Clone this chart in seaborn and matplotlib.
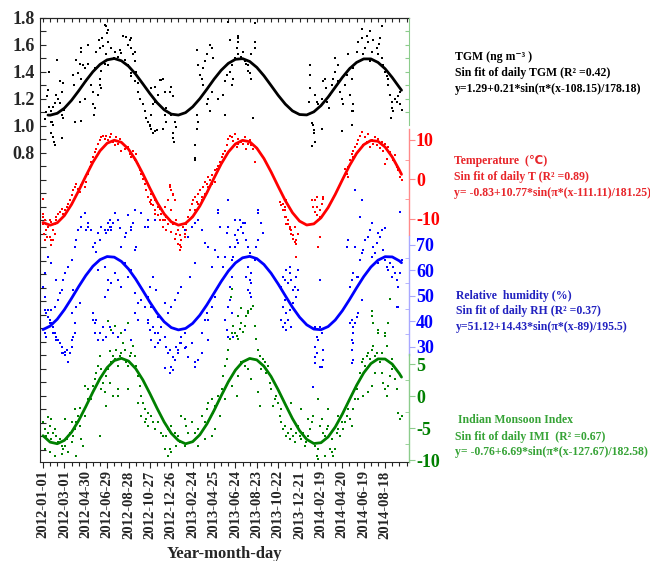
import matplotlib
matplotlib.use("Agg")
import matplotlib.pyplot as plt
import seaborn as sns
import numpy as np

# ---------------- data (days since 2012-01-01) ----------------
date_tick_days = [0, 60, 120, 180, 240, 300, 360, 420, 480, 540, 600, 660, 720, 780, 840, 900, 960]
date_tick_labels = ["2012-01-01", "2012-03-01", "2012-04-30", "2012-06-29", "2012-08-28",
                    "2012-10-27", "2012-12-26", "2013-02-24", "2013-04-25", "2013-06-24",
                    "2013-08-23", "2013-10-22", "2013-12-21", "2014-02-19", "2014-04-20",
                    "2014-06-19", "2014-08-18"]

tgm_ticks = [0.8, 1.0, 1.2, 1.4, 1.6, 1.8]
temp_ticks = [-10, 0, 10]
rh_ticks = [30, 40, 50, 60, 70]
imi_ticks = [-10, -5, 0, 5]

tgm_points = [
 (16,1.40),(14,1.27),(17,1.14),(25,1.03),(28,1.01),(23,1.11),(33,1.17),(42,1.20),(37,1.23),(47,1.33),
 (56,1.32),(52,1.25),(52,1.08),(56,1.06),(39,1.49),(23,0.95),(53,0.91),(33,0.86),(47,1.17),(28,1.14),
 (59,1.12),(22,1.03),(27,0.92),(31,0.88),(8,1.10),(5,1.05),(10,1.22),
 (84,1.38),(87,1.30),(94,1.49),(103,1.46),(112,1.45),(98,1.39),(108,1.35),(117,1.43),(106,1.58),
 (108,1.55),(126,1.46),(126,1.60),(122,1.33),(136,1.30),(140,1.25),(140,1.16),(145,1.13),(143,1.08),
 (153,1.23),(164,1.28),(159,1.30),(159,1.35),(145,1.43),(150,1.55),(159,1.58),(157,1.64),(166,1.65),
 (178,1.74),(183,1.71),(173,1.75),(181,1.69),(183,1.62),(169,1.59),(178,1.53),(173,1.46),(183,1.45),
 (89,1.03),(108,1.04),(103,1.18),(117,1.20),(164,1.41),
 (192,1.58),(201,1.55),(211,1.51),(199,1.50),(220,1.54),(215,1.56),(225,1.67),(234,1.66),(243,1.64),
 (248,1.65),(239,1.60),(248,1.58),(253,1.53),(229,1.49),(239,1.45),(243,1.43),(246,1.39),(248,1.37),
 (257,1.33),(267,1.32),(262,1.40),(257,1.48),(257,1.55),
 (267,1.25),(271,1.20),(281,1.16),(286,1.11),(290,1.06),(295,1.03),(300,1.01),(304,0.98),(314,0.96),
 (304,1.08),(309,1.16),(314,1.18),(304,1.28),(314,1.29),(323,1.23),(328,1.34),(337,1.35),(342,1.25),
 (346,1.13),(342,1.08),(346,1.03),(337,0.98),(309,0.95),(356,1.25),(360,1.29),(365,1.22),(360,1.08),
 (370,1.03),(368,0.88),(374,0.99),(365,0.95),(332,1.34),(366,0.91),(300,1.00),(320,0.97),
 (431,1.56),(435,1.45),(440,1.38),(445,1.35),(449,1.43),(454,1.48),(459,1.53),(449,1.30),(454,1.25),
 (463,1.20),(459,1.16),(431,1.08),(435,1.03),(431,0.98),(426,0.76),(426,0.86),(468,1.11),(473,1.25),
 (473,1.58),(468,1.60),(477,1.50),(491,1.20),(505,1.23),(510,1.33),(515,1.38),(524,1.40),(529,1.45),
 (534,1.35),(529,1.30),(538,1.50),(548,1.53),(543,1.58),(548,1.62),(548,1.65),(548,1.67),(562,1.55),
 (557,1.51),(566,1.48),(571,1.46),(576,1.45),(576,1.41),(580,1.39),(585,1.35),(585,1.53),(594,1.58),
 (594,1.62),(524,1.64),(519,1.77),(596,1.76),(510,1.08),(590,1.06),(426,0.75),
 (749,1.45),(749,1.38),(749,1.28),(746,1.18),(758,1.01),(761,0.97),(755,0.85),(763,1.23),(768,1.18),
 (772,1.16),(782,1.20),(786,1.33),(791,1.35),(793,1.28),(798,1.18),(802,1.13),(805,1.23),(810,1.30),
 (814,1.35),(819,1.40),(819,1.50),(828,1.45),(828,1.33),(833,1.25),(838,1.20),(842,1.16),(847,1.30),
 (852,1.38),(856,1.53),(861,1.43),(861,1.23),(871,1.16),(871,1.11),(866,1.35),(871,1.43),(880,1.55),
 (885,1.62),(894,1.65),(894,1.72),(908,1.67),(917,1.70),(913,1.62),(903,1.58),(922,1.55),(927,1.64),
 (936,1.58),(941,1.53),(943,1.61),(950,1.74),(945,1.65),(950,1.50),(955,1.45),(959,1.40),(964,1.37),
 (969,1.35),(969,1.30),(973,1.23),(978,1.18),(980,1.13),(983,1.11),(988,1.20),(992,1.18),(997,1.22),
 (1002,1.25),(1002,1.16),(1006,1.12),(976,1.06),(899,1.53),(917,1.48),(838,0.96),(782,0.98),(866,1.11),
 (760,0.95),(763,0.88),(866,1.01),(755,1.02)]

temp_points = [
 (0,-4.9),(0,-9.5),(5,-10.4),(9,-11.2),(14,-12.1),(19,-10.4),(23,-10.8),(28,-12.9),(33,-11.2),(3,-13.8),
 (12,-14.6),(23,-15.4),(37,-9.5),(42,-8.7),(47,-8.3),(52,-7.4),(56,-8.7),(61,-7.8),(66,-7.0),(70,-6.2),
 (75,-5.3),(80,-4.05),(84,-2.8),(89,-1.9),(94,-1.1),(98,-2.4),(103,-3.2),(108,-1.5),(112,-0.7),(117,-1.9),
 (122,-0.7),(126,1.4),(131,3.1),(136,4.4),(140,5.7),(145,6.9),(150,7.8),(154,9.0),(159,9.9),(164,10.7),
 (169,11.1),(173,10.3),(178,11.1),(183,9.9),(187,10.7),(192,11.6),(197,9.5),(201,8.6),(206,10.7),
 (211,9.0),(215,10.3),(220,7.3),(229,7.8),(239,8.2),(243,6.5),(248,5.7),(253,7.3),(257,4.8),(262,6.5),
 (267,4.0),(271,2.3),(276,1.4),(281,0.2),(286,-1.1),(290,-2.8),(295,-4.5),(300,-5.7),(304,-5.3),
 (309,-6.6),(314,-7.8),(323,-6.2),(328,-7.4),(332,-8.7),(342,-7.0),(351,-5.3),(360,-2.8),(365,-4.05),
 (356,-1.5),(323,-9.1),(337,-10.4),(346,-9.5),(356,-10.4),(365,-11.2),(374,-10.4),(379,-12.9),
 (384,-14.2),(388,-15.4),(384,-16.7),(398,-13.8),(402,-11.2),(407,-9.5),(412,-7.8),(417,-6.2),
 (421,-5.3),(426,-4.5),(431,-5.7),(435,-3.6),(440,-2.8),(445,-4.5),(449,-1.9),(454,-0.7),(459,-1.1),
 (463,0.6),(468,-0.25),(473,1.0),(482,2.3),(487,2.7),(491,3.5),(496,4.4),(501,5.7),(505,6.5),(510,7.3),
 (515,8.6),(519,10.3),(524,11.1),(529,10.7),(538,11.6),(548,10.3),(557,9.5),(566,10.7),(576,9.0),
 (585,8.6),(590,7.8),(594,4.4),(548,9.0),(571,7.8),(533,9.8),(543,8.1),(562,8.9),(580,10.0),
 (665,-5.7),(669,-6.6),(674,-7.8),(679,-9.5),(683,-11.2),(688,-10.4),(693,-12.1),(697,-12.9),
 (702,-14.2),(711,-15.4),(707,-12.1),(679,-7.0),(683,-5.3),(754,-5.3),(758,-7.0),(763,-8.3),
 (768,-9.1),(772,-10.4),(777,-7.8),(782,-6.2),(786,-4.9),(777,-14.6),(768,-4.5),
 (852,1.4),(856,3.1),(861,4.8),(866,6.5),(871,7.3),(875,8.2),(880,9.0),(885,9.9),(889,11.1),(894,12.0),
 (903,10.7),(913,11.6),(922,9.9),(931,10.7),(941,10.3),(950,9.5),(959,9.0),(969,8.2),(973,6.9),
 (978,5.7),(983,4.8),(988,6.1),(992,3.1),(997,2.3),(1002,0.6),(1006,-0.25),(871,5.7),(899,8.6),
 (917,8.2),(936,8.6),(955,7.3),(964,5.2),(959,4.0),(856,0.6),(847,2.7),(908,9.6),(927,9.1),(945,8.0),
 (0,-11.2),(9,-12.9),(19,-14.6),(28,-15.4),(5,-15.4),(23,-16.7),(14,-12.1),(33,-13.8),(37,-10.4),(0,-8.7),
 (295,-1.1),(304,-3.6),(314,-5.3),(323,-7.0),(332,-8.7),(342,-10.4),(351,-11.2),(360,-13.3),(370,-15.0),
 (379,-16.3),(384,-18.0),(388,-17.1),(398,-14.6),(402,-12.9),(360,-7.8),(365,-3.6),(356,-1.9),(370,-5.3),
 (417,-9.5),(426,-7.8),(435,-6.2),(445,-5.3),(454,-3.6),(463,-1.9),(473,-1.1),(482,-0.7),(314,-8.7),
 (328,-10.4),(337,-12.1),(346,-12.9),(374,-13.8),(393,-12.1),(304,-6.2),
 (674,-6.2),(679,-7.8),(683,-9.5),(688,-11.2),(693,-12.5),(697,-13.8),(702,-15.0),(707,-15.9),
 (711,-16.3),(716,-13.8),(772,-17.1),(777,-9.5),(763,-5.3),(768,-7.0),(782,-6.2),(786,-4.5),(711,-19.7)]

rh_points = [
 (0,53.7),(5,49.7),(9,43.2),(14,41.9),(19,40.6),(23,44.5),(28,38.0),(33,35.4),(37,34.1),(42,32.7),
 (47,31.4),(52,30.1),(56,27.5),(61,26.9),(66,28.8),(70,24.3),(75,27.5),(80,30.1),(84,34.1),(89,35.4),
 (5,35.4),(9,34.1),(14,44.5),(23,39.3),(33,45.8),(42,48.4),(47,51.0),(52,52.4),(56,56.3),(61,58.9),
 (70,61.5),(80,64.1),(89,69.4),(94,72.0),(98,75.9),(108,77.2),(117,82.4),(126,78.5),(136,75.9),
 (23,62.8),(14,65.4),(5,58.9),(37,56.3),(80,43.2),(94,45.8),(103,47.1),(89,39.3),(84,52.4),
 (140,69.4),(145,70.7),(150,67.4),(154,74.6),(159,72.0),(164,77.2),(173,75.9),(178,74.6),(183,78.5),
 (187,77.2),(192,75.9),(197,78.5),(201,82.4),(211,79.8),(215,76.5),(220,69.4),(229,73.3),(234,74.6),
 (239,81.8),(248,75.9),(253,78.5),(257,68.0),(262,69.4),(154,60.2),(173,61.5),(183,56.3),(192,55.0),
 (201,58.9),(211,56.3),(220,53.7),(229,62.8),(239,57.6),(248,60.2),(257,51.0),(267,47.1),(276,48.4),
 (286,45.8),(140,43.2),(145,39.3),(150,40.6),(159,35.4),(169,32.7),(178,34.1),(187,38.0),(197,35.4),
 (211,34.1),(229,36.7),(248,32.7),(257,43.2),(267,40.6),(173,49.7),(183,52.4),(257,83.7),
 (295,40.6),(300,36.7),(304,32.7),(309,38.0),(314,30.1),(323,35.4),(328,32.7),(332,38.0),(342,34.1),
 (346,30.1),(351,27.5),(356,28.8),(360,22.3),(365,21.0),(370,24.9),(374,30.1),(379,27.5),(384,31.4),
 (388,34.1),(398,35.4),(402,30.1),(407,26.2),(417,31.4),(426,22.3),(435,24.9),(445,35.4),(454,40.6),
 (459,43.2),(463,40.6),(473,45.8),(482,49.7),(491,53.7),(501,56.3),(505,61.5),(510,65.4),(491,65.4),
 (473,61.5),(463,69.4),(454,70.7),(445,75.9),(435,79.8),(426,78.5),(417,77.2),(407,73.3),(398,75.9),
 (426,62.8),(412,57.6),(388,53.7),(379,51.0),(370,48.4),(360,45.8),(351,43.2),(342,47.1),(323,41.9),
 (304,45.8),(295,49.7),(300,53.7),(309,57.6),(318,52.4),(276,82.4),(286,77.2),(295,79.8),(491,82.4),
 (496,77.2),(482,68.0),
 (515,74.6),(519,77.2),(524,69.4),(529,64.1),(534,65.4),(538,69.4),(543,72.0),(548,75.9),(552,79.8),
 (557,77.2),(562,74.6),(566,78.5),(571,72.0),(576,69.4),(580,66.7),(585,55.0),(576,52.4),(580,51.0),
 (585,49.7),(580,56.3),(571,57.6),(576,61.5),(585,58.9),(594,64.1),(599,69.4),(604,82.4),(613,78.5),
 (618,74.6),(604,72.0),(548,70.7),(538,73.9),(519,45.8),(524,48.4),(529,43.2),(510,40.6),(515,36.7),
 (519,34.1),(534,34.1),(524,53.7),(529,57.6),
 (669,53.7),(674,57.6),(679,56.3),(683,60.2),(688,55.0),(693,58.9),(697,56.3),(702,52.4),(707,53.7),
 (711,49.7),(679,48.4),(674,45.8),(683,43.2),(688,40.6),(693,44.5),(702,47.1),(679,39.3),(674,38.0),
 (669,40.6),(697,38.0),(683,36.7),(711,57.6),(716,52.4),(693,61.5),(716,60.2),(763,30.1),(768,27.5),
 (772,32.7),(777,38.0),(782,35.4),(786,28.8),(763,23.6),(782,22.3),(777,56.3),(763,38.0),(768,34.1),
 (852,69.4),(856,72.0),(861,53.7),(866,56.3),(871,58.9),(875,69.4),(880,57.6),(885,57.6),(889,64.1),
 (894,66.7),(899,68.0),(903,72.0),(913,73.3),(917,75.9),(922,78.5),(927,69.4),(931,66.7),(936,70.7),
 (941,74.6),(945,73.3),(950,75.9),(955,68.0),(959,64.1),(964,61.5),(969,60.2),(973,62.8),(978,65.4),
 (983,61.5),(988,58.9),(992,56.3),(997,53.7),(1002,58.9),(1006,64.1),(1002,83.1),(922,65.4),(941,62.8),
 (978,57.6),(866,40.6),(871,38.0),(875,39.3),(880,41.9),(885,43.2),(871,35.4),(861,39.3),(866,32.7),
 (871,31.4),(866,23.6),(992,45.8),(997,45.8),(894,48.4),
 (108,81.1),(126,77.2),(122,75.9),(187,79.8),(192,77.2),(183,75.9),(239,81.7),(248,77.2),(491,83.7),
 (519,87.6),(538,79.8),(562,78.5),(604,83.7),(875,91.5),(894,87.6),(889,81.1),(959,76.5),(295,77.2),
 (314,79.8),
 (5,44.5),(14,41.9),(19,39.3),(28,35.4),(37,32.7),(52,27.5),(61,28.2),(70,24.2),(80,32.7),(84,34.0),
 (140,40.6),(145,35.4),(154,32.7),(169,38.0),(295,39.3),(314,35.4),(323,31.4),(342,21.6),(356,19.7),
 (365,26.2),(379,28.8),(388,31.4),(398,29.5),(426,24.2),(445,27.5),(463,32.7),(763,26.2),(777,22.3),
 (786,24.9),(758,14.4),(866,28.8),(871,24.9)]

imi_points = [
 (0,-4.1),(5,-5.2),(9,-6.2),(14,-5.7),(19,-4.6),(23,-6.7),(28,-5.7),(33,-5.2),(37,-6.2),(42,-7.2),
 (47,-6.7),(52,-7.8),(56,-8.3),(61,-7.8),(66,-6.7),(70,-6.2),(75,-5.7),(80,-7.2),(84,-6.2),(89,-5.2),
 (94,-4.1),(98,-3.1),(103,-4.6),(108,-6.7),(112,-7.8),(117,-3.1),(122,-1.5),(126,-0.5),(23,-3.6),
 (14,-3.3),(5,-8.3),(19,-8.8),(33,-9.3),(52,-9.1),(70,-8.8),(94,-9.3),(61,-3.6),(80,-4.1),(89,-2.0),
 (103,-1.8),(117,1.6),(126,1.1),(136,-0.5),(140,1.6),(145,2.7),(150,3.7),(154,4.7),(159,6.3),(164,4.2),
 (169,2.1),(173,0.6),(178,3.2),(183,4.2),(187,7.1),(192,5.3),(197,6.3),(201,5.8),(206,7.3),(211,4.7),
 (215,6.3),(220,6.8),(225,8.4),(229,7.3),(234,5.3),(239,4.7),(243,6.3),(248,6.8),(253,7.9),(257,6.3),
 (262,4.7),(267,3.2),(271,1.6),(276,0.05),(281,-1.0),(286,-2.0),(290,-3.6),(295,-4.6),(267,-1.0),
 (276,-3.1),(286,-4.1),(295,-2.6),(304,-3.1),(309,-4.1),(314,-5.2),(323,-4.1),(332,-5.7),(337,-6.2),
 (346,-6.2),(351,-5.2),(360,-4.6),(370,-5.7),(379,-6.2),(384,-7.2),(388,-3.1),(398,-3.6),(402,-4.6),
 (407,-5.7),(417,-4.1),(426,-5.7),(435,-5.2),(445,-3.1),(454,-4.1),(459,-2.0),(463,-1.0),(473,-0.5),
 (477,-2.6),(482,-1.5),(491,0.05),(496,-0.5),(501,1.1),(505,3.2),(510,4.7),(515,5.8),(519,7.3),
 (524,8.9),(529,9.9),(534,11.0),(538,9.9),(543,9.4),(548,8.9),(552,10.5),(557,11.5),(562,10.0),
 (566,11.0),(571,12.6),(576,13.1),(585,13.6),(594,11.0),(599,8.9),(604,7.3),(608,6.3),(613,4.2),
 (618,5.8),(622,5.3),(627,3.7),(632,4.7),(636,2.1),(641,1.1),(646,-1.5),(651,-0.5),(655,0.05),
 (660,-1.0),(608,-1.5),(604,0.6),(585,2.7),(576,4.2),(566,4.7),(557,5.3),(548,3.2),(543,0.05),
 (529,1.6),(510,-0.5),(496,-3.1),(187,2.1),(197,0.05),(211,1.1),(239,1.1),(164,1.1),(159,-6.2),
 (178,-1.5),(211,0.05),(356,-8.3),(360,-8.8),(374,-7.8),(398,-7.8),(417,-7.2),(435,-7.8),(454,-6.7),
 (473,-6.2),(482,-5.2),(342,-8.3),(351,-9.3),
 (665,-3.1),(669,-4.1),(674,-5.2),(679,-4.6),(683,-6.2),(688,-5.7),(693,-6.7),(697,-5.2),(702,-6.2),
 (707,-7.2),(711,-5.7),(716,-4.6),(721,-6.2),(725,-6.7),(730,-5.7),(735,-7.8),(739,-7.2),(744,-6.2),
 (749,-5.2),(754,-4.1),(758,-3.1),(763,-7.8),(768,-9.3),(772,-8.3),(777,-4.6),(782,-3.6),(786,-5.7),
 (791,-6.2),(796,-5.2),(800,-4.6),(805,-8.3),(810,-8.8),(814,-9.3),(819,-8.3),(824,-5.7),(828,-5.2),
 (833,-6.2),(838,-4.1),(842,-5.2),(847,-4.1),(852,-3.1),(856,-2.0),(861,-3.6),(866,-4.6),(871,-2.0),
 (875,-0.5),(880,1.1),(885,2.1),(889,3.7),(894,5.3),(899,5.8),(903,4.7),(908,6.3),(913,6.8),(917,5.8),
 (922,7.3),(927,7.9),(931,6.3),(936,6.8),(941,9.9),(945,5.3),(950,3.7),(955,2.1),(959,1.1),(964,0.05),
 (969,1.6),(973,3.2),(978,4.2),(983,4.7),(988,2.7),(992,1.1),(997,-2.6),(1002,-3.6),(1006,-3.1),
 (922,12.6),(927,11.5),(969,11.5),(959,9.4),(885,-0.5),(899,0.05),(913,0.6),(922,1.6),(931,3.7),
 (950,6.8),(964,7.9),(978,5.8),(669,-2.0),(697,-1.0),(725,-2.0),(744,-3.6),(772,-0.5),(800,-2.0),
 (828,-3.1),(810,-6.7),(791,-9.3),(772,-9.8),
 (529,16.8),(527,15.5),(557,13.8),(576,13.3),(590,14.1),(183,11.8),(201,11.0),(239,11.5),(922,13.3),
 (941,10.4),(959,9.9),(973,15.2),(548,12.6),(190,10.4),(220,9.9)]

# fitted sine curves
fit_days = [0, 20, 40, 60, 80, 100, 120, 140, 160, 180, 200, 220, 240, 260, 280, 300, 320, 340, 360,
            380, 400, 420, 440, 460, 480, 500, 520, 540, 560, 580, 600, 620, 640, 660, 680, 700, 720,
            740, 760, 780, 800, 820, 840, 860, 880, 900, 920, 940, 960, 980, 1000, 1006]
tgm_fit_days = [14] + fit_days[1:]
tgm_fit = [1.081, 1.080, 1.094, 1.132, 1.190, 1.260, 1.334, 1.402, 1.456, 1.490, 1.500, 1.483, 1.443,
           1.384, 1.313, 1.240, 1.173, 1.120, 1.088, 1.081, 1.099, 1.142, 1.202, 1.273, 1.347, 1.413,
           1.464, 1.494, 1.499, 1.478, 1.434, 1.372, 1.300, 1.227, 1.162, 1.112, 1.085, 1.082, 1.105,
           1.151, 1.214, 1.287, 1.360, 1.424, 1.471, 1.497, 1.497, 1.471, 1.424, 1.359, 1.286, 1.265]
temp_fit = [-10.93, -11.60, -10.99, -9.17, -6.36, -2.89, 0.82, 4.34, 7.24, 9.18, 9.93, 9.40, 7.66, 4.90,
            1.46, -2.25, -5.79, -8.75, -10.76, -11.59, -11.13, -9.46, -6.75, -3.35, 0.36, 3.93, 6.93,
            9.00, 9.91, 9.54, 7.93, 5.29, 1.91, -1.79, -5.38, -8.42, -10.57, -11.55, -11.26, -9.73,
            -7.14, -3.80, -0.11, 3.50, 6.60, 8.80, 9.87, 9.66, 8.20, 5.67, 2.36, 1.28]
rh_fit = [36.83, 38.20, 40.90, 44.64, 49.04, 53.66, 58.01, 61.67, 64.24, 65.46, 65.22, 63.54, 60.58,
          56.66, 52.16, 47.56, 43.33, 39.89, 37.60, 36.70, 37.27, 39.26, 42.47, 46.56, 51.12, 55.68,
          59.77, 62.97, 64.97, 65.54, 64.64, 62.35, 58.92, 54.68, 50.08, 45.59, 41.66, 38.70, 37.02,
          36.77, 38.00, 40.57, 44.22, 48.58, 53.20, 57.60, 61.34, 64.03, 65.41, 65.32, 63.77, 63.04]
imi_fit = [-6.18, -7.19, -7.44, -6.91, -5.65, -3.83, -1.64, 0.65, 2.77, 4.48, 5.58, 5.93, 5.50, 4.33,
           2.57, 0.41, -1.88, -4.04, -5.81, -6.94, -7.45, -7.12, -6.04, -4.34, -2.23, 0.06, 2.25, 4.09,
           5.36, 5.91, 5.68, 4.69, 3.08, 0.99, -1.29, -3.51, -5.40, -6.76, -7.41, -7.28, -6.38, -4.83,
           -2.80, -0.53, 1.71, 3.66, 5.10, 5.84, 5.82, 5.02, 3.54, 2.99]

# ---------------- style ----------------
sns.set_style("ticks")
plt.rcParams['font.family'] = ['Liberation Serif', 'DejaVu Sans']
plt.rcParams['font.weight'] = 'bold'

W, H = 650, 561
fig = plt.figure(figsize=(6.5, 5.61), dpi=100)
ax = fig.add_axes([40 / W, 1 - 462 / H, 369 / W, 444 / H])
ax_g = ax.twinx()
ax_t = ax.twinx()
ax_rh = ax.twinx()
ax_imi = ax.twinx()

RED, BLUE, GREEN = '#ff0000', '#0000ff', '#008000'
L_RED, L_BLUE, L_GREEN = '#ff8a8a', '#a8a8ff', '#8ccc8c'


def unzip(pts):
    return [p[0] for p in pts], [p[1] for p in pts]


series = [
    (ax, tgm_points, tgm_fit_days, tgm_fit, 'black'),
    (ax_t, temp_points, fit_days, temp_fit, RED),
    (ax_rh, rh_points, fit_days, rh_fit, BLUE),
    (ax_imi, imi_points, fit_days, imi_fit, GREEN),
]
for a, pts, fd, fv, col in series:
    d, v = unzip(pts)
    sns.scatterplot(x=d, y=v, ax=a, color=col, s=3.2, marker='s', linewidth=0, zorder=2)
    sns.lineplot(x=fd, y=fv, ax=a, color=col, linewidth=2.0, zorder=3)

# ---------------- axes ----------------
ax.set_xlim(-8.4, 1027)
ax.set_ylim(-1.489, 1.8)
ax_g.set_ylim(-1.489, 1.8)
ax_t.set_ylim(-71.6, 40.9)
ax_rh.set_ylim(-15.1, 159)
ax_imi.set_ylim(-10.3, 59.2)

for a in (ax_g, ax_t, ax_rh, ax_imi):
    for s in ('left', 'top', 'bottom'):
        a.spines[s].set_visible(False)
    a.set_xlabel('')
    a.set_ylabel('')
ax.spines['right'].set_visible(False)
ax.set_xlabel('')
ax.set_ylabel('')

# x axis
ax.set_xticks(date_tick_days)
ax.set_xticklabels(date_tick_labels, rotation=90, fontsize=10.5, fontweight='bold')
ax.set_xticks(list(range(0, 1021, 20)), minor=True)
ax.tick_params(axis='x', which='major', direction='out', length=4, width=0.8, pad=2)
ax.tick_params(axis='x', which='minor', direction='out', length=3, width=0.8)
top = ax.secondary_xaxis('top')
top.set_xticks(list(range(0, 1021, 20)))
top.set_xticklabels([])
top.tick_params(direction='in', length=3, width=0.8)

# left TGM axis
left_major = [round(-1.4 + 0.2 * i, 1) for i in range(17)]
ax.set_yticks(left_major)
ax.set_yticklabels([f'{t:.1f}' if t in tgm_ticks else '' for t in left_major], fontsize=13,
                   fontweight='bold')
ax.set_yticks([round(-1.3 + 0.2 * i, 1) for i in range(16)], minor=True)
ax.tick_params(axis='y', which='both', direction='in', length=4, width=0.8, pad=4)

# light green short spine on the right top
ax_g.spines['right'].set_bounds(1.007, 1.8)
ax_g.spines['right'].set_color(L_GREEN)
ax_g.set_yticks([1.1, 1.2, 1.3, 1.4, 1.5, 1.6, 1.7])
ax_g.set_yticklabels([])
ax_g.tick_params(axis='y', direction='in', length=3, color=L_GREEN)


def right_axis(a, ticks, minor, bounds, spine_col, lab_col):
    a.spines['right'].set_bounds(*bounds)
    a.spines['right'].set_color(spine_col)
    a.spines['right'].set_linewidth(1.0)
    a.set_yticks(ticks)
    a.set_yticklabels([str(t) for t in ticks], color=lab_col, fontsize=13, fontweight='bold')
    a.set_yticks(minor, minor=True)
    a.tick_params(axis='y', which='major', direction='out', length=4, color=spine_col, pad=1)
    a.tick_params(axis='y', which='minor', direction='in', length=3, color=spine_col)


right_axis(ax_t, temp_ticks, [-5, 5], (-14.2, 12.9), L_RED, RED)
right_axis(ax_rh, rh_ticks, [35, 45, 55, 65], (26.9, 73.5), L_BLUE, BLUE)
right_axis(ax_imi, imi_ticks, [-7.5, -2.5, 2.5], (-10.3, 6.56), L_GREEN, GREEN)

# ---------------- annotations ----------------
FS = 8.5
notes = [
    (455, 57, 'TGM (ng m⁻³ )', 'black'),
    (455, 73, 'Sin fit of daily TGM (R² =0.42)', 'black'),
    (455, 89, 'y=1.29+0.21*sin(π*(x-108.15)/178.18)', 'black'),
    (454, 161, 'Temperature  (℃)', '#e8262b'),
    (454, 177, 'Sin fit of daily T (R² =0.89)', '#e8262b'),
    (454, 193, 'y= -0.83+10.77*sin(π*(x-111.11)/181.25)', '#e8262b'),
    (456, 296, 'Relative  humidity (%)', '#2222c0'),
    (456, 311, 'Sin fit of daily RH (R² =0.37)', '#2222c0'),
    (456, 327, 'y=51.12+14.43*sin(π*(x-89)/195.5)', '#2222c0'),
    (458, 420, 'Indian Monsoon Index', '#36a336'),
    (455, 437, 'Sin fit of daily IMI  (R² =0.67)', '#36a336'),
    (455, 452, 'y= -0.76+6.69*sin(π*(x-127.67)/182.58)', '#36a336'),
]
for x, y, s, c in notes:
    fig.text(x / W, 1 - y / H, s, color=c, fontsize=FS, fontweight='bold', ha='left', va='center')

fig.text(224 / W, 1 - 554 / H, 'Year-month-day', fontsize=12, fontweight='bold',
         ha='center', va='center')

fig.savefig('out.png', dpi=100)
